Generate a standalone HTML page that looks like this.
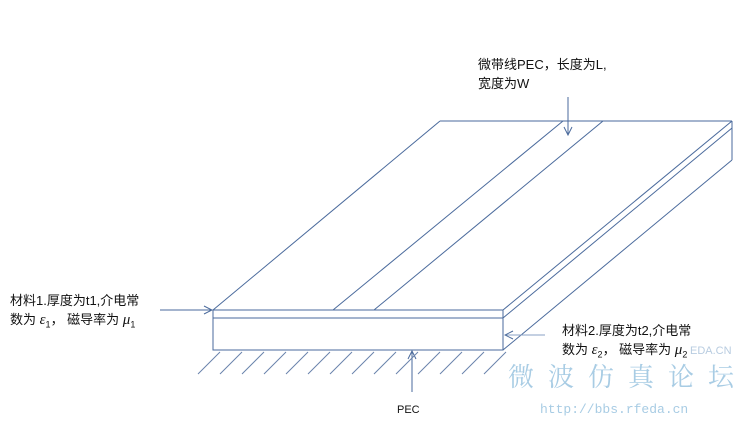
<!DOCTYPE html>
<html><head><meta charset="utf-8"><style>
body{margin:0;background:#fff;width:753px;height:425px;overflow:hidden;position:relative;font-family:"Liberation Sans","Noto Sans CJK SC",sans-serif;}
.t{position:absolute;font-size:13px;color:#111;white-space:nowrap;line-height:19px}
i{font-family:"Liberation Serif",serif;font-size:15px}
sub{font-size:9px}
</style></head><body>
<svg width="753" height="425" style="position:absolute;left:0;top:0" fill="none" stroke="#4a6a9c" stroke-width="1">
<defs><marker id="a" markerWidth="10" markerHeight="10" refX="9" refY="5" orient="auto"><path d="M1,1 L9,5 L1,9" stroke="#4a6a9c" fill="none"/></marker></defs>
<rect x="213" y="310" width="290" height="40"/>
<line x1="213" y1="318" x2="503" y2="318"/>
<line x1="213" y1="310" x2="440" y2="121"/>
<line x1="440" y1="121" x2="732" y2="121"/>
<line x1="503" y1="310" x2="732" y2="121"/>
<line x1="503" y1="318" x2="732" y2="128"/>
<line x1="503" y1="350" x2="732" y2="160"/>
<line x1="732" y1="121" x2="732" y2="160"/>
<line x1="333" y1="310" x2="563" y2="121"/>
<line x1="374" y1="310" x2="603" y2="121"/>
<line x1="568" y1="97" x2="568" y2="135" marker-end="url(#a)"/>
<line x1="160" y1="310" x2="212" y2="310" marker-end="url(#a)"/>
<line x1="545" y1="335" x2="505" y2="335" marker-end="url(#a)" stroke="#8aa2c4"/>
<line x1="412" y1="392" x2="412" y2="351" marker-end="url(#a)"/>
<g stroke="#6a84ac">
<path d="M220,352l-22,22M242,352l-22,22M264,352l-22,22M286,352l-22,22M308,352l-22,22M330,352l-22,22M352,352l-22,22M374,352l-22,22M396,352l-22,22M418,352l-22,22M440,352l-22,22M462,352l-22,22M484,352l-22,22M506,352l-22,22"/>
</g>
</svg>
<div class="t" style="left:478px;top:55px">微带线PEC，长度为L,<br>宽度为W</div>
<div class="t" style="left:10px;top:291px">材料1.厚度为t1,介电常<br>数为 <i>ε</i><sub>1</sub>， 磁导率为 <i>μ</i><sub>1</sub></div>
<div class="t" style="left:562px;top:321px">材料2.厚度为t2,介电常<br>数为 <i>ε</i><sub>2</sub>， 磁导率为 <i>μ</i><sub>2</sub></div>
<div class="t" style="left:397px;top:401px;font-size:11px">PEC</div>
<div class="t" style="left:508px;top:366px;font-size:26px;color:#a8cce4;letter-spacing:14px;font-family:'Noto Serif CJK SC',serif">微波仿真论坛</div>
<div class="t" style="left:540px;top:400px;font-size:13px;color:#a8cce4;font-family:'Liberation Mono',monospace">http://bbs.rfeda.cn</div>
<div class="t" style="left:690px;top:342px;font-size:11px;color:#b8cce0">EDA.CN</div>
</body></html>
